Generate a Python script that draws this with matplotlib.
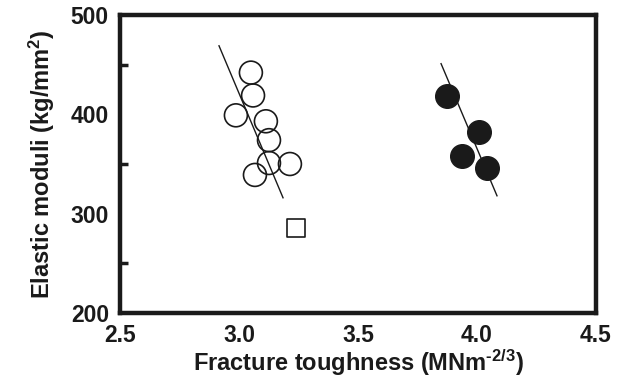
import matplotlib
matplotlib.use("Agg")
import matplotlib.pyplot as plt
from matplotlib import font_manager

# ---- data ----
open_x = [3.050, 3.059, 2.987, 3.113, 3.126, 3.126, 3.214, 3.067]
open_y = [442, 419, 399, 393, 374, 351, 350, 339]
square_x = [3.239]
square_y = [286]
filled_x = [3.874, 4.008, 3.937, 4.042]
filled_y = [418, 382, 358, 346]
open_line_x = [2.916, 3.185]
open_line_y = [469, 316]
filled_line_x = [3.849, 4.084]
filled_line_y = [451, 318]
xticks = [2.5, 3.0, 3.5, 4.0, 4.5]
xticklabels = ["2.5", "3.0", "3.5", "4.0", "4.5"]
yticks = [200, 300, 400, 500]
yticklabels = ["200", "300", "400", "500"]
yminor = [250, 300, 350, 400, 450]
xminor = [3.0, 3.5, 4.0]

names = {f.name for f in font_manager.fontManager.ttflist}
fam = "Liberation Sans Narrow" if "Liberation Sans Narrow" in names else "Liberation Sans"
plt.rcParams["font.family"] = [fam, "DejaVu Sans"]
plt.rcParams["font.weight"] = "bold"
plt.rcParams["mathtext.fontset"] = "custom"
plt.rcParams["mathtext.rm"] = fam + ":bold"
plt.rcParams["mathtext.bf"] = fam + ":bold"
plt.rcParams["mathtext.default"] = "bf"

ink = "#1a1a1a"
fig = plt.figure(figsize=(6.29, 3.79), dpi=100)
ax = fig.add_axes([120/629, 1-313/379, (596-120)/629, (313-15)/379])

ax.plot(open_line_x, open_line_y, color=ink, lw=1.0)
ax.plot(filled_line_x, filled_line_y, color=ink, lw=1.0)
ax.scatter(open_x, open_y, s=16.5**2, facecolors="none", edgecolors=ink, linewidths=1.2, zorder=3)
ax.scatter(filled_x, filled_y, s=17**2, facecolors=ink, edgecolors=ink, linewidths=1.0, zorder=3)
ax.scatter(square_x, square_y, s=12.5**2, marker="s", facecolors="white", edgecolors=ink, linewidths=1.2, zorder=3)

ax.set_xlim(2.5, 4.5)
ax.set_ylim(200, 500)
for sp in ax.spines.values():
    sp.set_linewidth(3.2)
    sp.set_color(ink)

ax.set_xticks(xticks)
ax.set_xticklabels(xticklabels)
ax.set_yticks(yticks)
ax.set_yticklabels(yticklabels)
ax.tick_params(axis="both", which="major", length=0, pad=8, labelsize=16.5, colors=ink)
ax.set_xticks(xminor, minor=True)
ax.set_yticks(yminor, minor=True)
ax.tick_params(axis="x", which="minor", direction="in", length=9, width=3.2, color=ink)
ax.tick_params(axis="y", which="minor", direction="in", length=6, width=2.5, color=ink)

ax.set_xlabel("Fracture toughness (MNm$^{\\text{-2/3}}$)", fontsize=17, fontweight="bold", color=ink, labelpad=0)
ax.set_ylabel("Elastic moduli (kg/mm$^{\\text{2}}$)", fontsize=17, fontweight="bold", color=ink, labelpad=10)

fig.savefig("out.png", dpi=100)
